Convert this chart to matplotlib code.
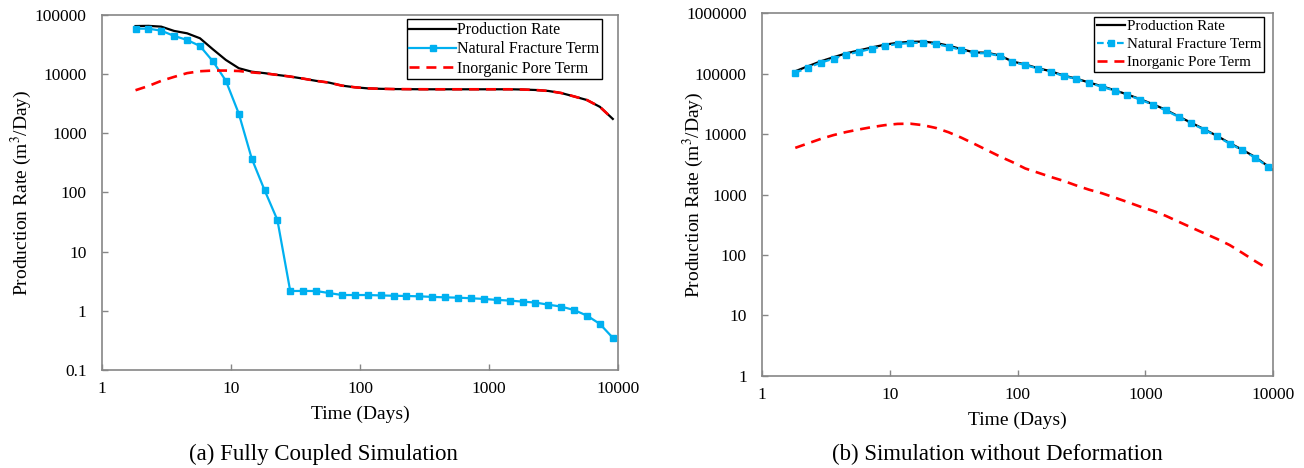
import matplotlib
matplotlib.use("Agg")
import matplotlib.pyplot as plt
import matplotlib.ticker as ticker

plt.rcParams["font.family"] = ["Liberation Serif", "DejaVu Serif"]
plt.rcParams["mathtext.fontset"] = "stix"

# simulation output times (days), shared by both runs
t = [1.82, 2.29, 2.88, 3.63, 4.57, 5.75, 7.24, 9.12, 11.5, 14.5,
     18.2, 22.9, 28.8, 36.3, 45.7, 57.5, 72.4, 91.2, 115, 145,
     182, 229, 288, 363, 457, 575, 724, 912, 1148, 1445,
     1820, 2291, 2884, 3631, 4571, 5754, 7244, 9120]

# (a) fully coupled simulation
prod_a = [65000, 65500, 63500, 53700, 49000, 40400, 26300, 17400, 12600, 11000,
          10400, 9700, 9100, 8400, 7700, 7200, 6400, 6000, 5750, 5650,
          5600, 5580, 5560, 5550, 5550, 5550, 5550, 5550, 5550, 5550,
          5500, 5400, 5200, 4800, 4200, 3650, 2800, 1750]
frac_a = [58700, 58700, 54300, 44200, 37800, 29900, 16500, 7770, 2150, 372,
          110, 34.3, 2.16, 2.17, 2.16, 2.0, 1.85, 1.85, 1.85, 1.82,
          1.80, 1.78, 1.76, 1.72, 1.69, 1.67, 1.63, 1.59, 1.53, 1.49,
          1.43, 1.38, 1.27, 1.18, 1.03, 0.83, 0.60, 0.35]
pore_a = [5350, 6300, 7700, 9000, 10400, 11200, 11500, 11500, 11300, 10700,
          10300, 9700, 9100, 8400, 7700, 7200, 6400, 6000, 5750, 5650,
          5600, 5580, 5560, 5550, 5550, 5550, 5550, 5550, 5550, 5550,
          5500, 5400, 5200, 4800, 4200, 3650, 2800, 1750]

# (b) simulation without deformation
t_prod_b = t + [10000]
prod_b = [109000, 132000, 159000, 186000, 216000, 241000, 270000, 299000, 322000, 334000,
          337000, 320000, 289000, 253000, 223000, 221000, 199000, 158000, 141000, 122000,
          109000, 92600, 82400, 70900, 61600, 52900, 45000, 37600, 31100, 25100,
          19500, 15300, 12000, 9340, 7070, 5490, 4150, 2940, 2540]
frac_b = [103000, 125000, 151000, 176000, 205000, 229000, 257000, 285000, 307000, 319000,
          323000, 307000, 278000, 244000, 216000, 216000, 195000, 155000, 138000, 120000,
          107000, 91000, 81000, 69700, 60500, 52000, 44200, 36900, 30500, 24600,
          19100, 15000, 11800, 9160, 6920, 5370, 4060, 2880]
pore_b = [5900, 7000, 8300, 9600, 10800, 11900, 13000, 14000, 14700, 14800,
          14000, 12600, 10700, 8700, 6900, 5430, 4270, 3430, 2690, 2290,
          1950, 1680, 1410, 1200, 1050, 890, 752, 630, 537, 444,
          355, 285, 229, 185, 146, 108, 79, 59]

x_ticks = [1, 10, 100, 1000, 10000]
y_ticks_a = [0.1, 1, 10, 100, 1000, 10000, 100000]
y_ticks_b = [1, 10, 100, 1000, 10000, 100000, 1000000]

BLUE = "#00B0F0"
RED = "#FF0000"
GRAY = "#868686"

fig = plt.figure(figsize=(13.04, 4.68), dpi=100)
ax_a = fig.add_axes([0.0782, 0.2094, 0.3957, 0.7586])
ax_b = fig.add_axes([0.5844, 0.1966, 0.3919, 0.7756])


def style_axes(ax, yticks, ylab_x, leg_anchor, leg_size, leg_handle, leg_space):
    ax.set_xscale("log")
    ax.set_yscale("log")
    ax.set_xlim(1, 10000)
    ax.set_ylim(yticks[0], yticks[-1])
    ax.xaxis.set_major_locator(ticker.FixedLocator(x_ticks))
    ax.yaxis.set_major_locator(ticker.FixedLocator(yticks))
    ax.xaxis.set_major_formatter(ticker.FixedFormatter([f"{v:g}" for v in x_ticks]))
    ax.yaxis.set_major_formatter(ticker.FixedFormatter(
        [f"{v:g}" if v < 1e6 else f"{int(v)}" for v in yticks]))
    ax.xaxis.set_minor_locator(ticker.NullLocator())
    ax.yaxis.set_minor_locator(ticker.NullLocator())
    ax.tick_params(direction="in", length=4, width=1, color=GRAY, labelsize=12.5)
    ax.tick_params(axis="y", pad=11)
    ax.tick_params(axis="x", pad=8)
    for s in ax.spines.values():
        s.set_color(GRAY)
        s.set_linewidth(1.2)
    ax.set_xlabel("Time (Days)", fontsize=14, labelpad=6)
    ax.set_ylabel("Production Rate (m$^3$/Day)", fontsize=14, va="center")
    ax.yaxis.set_label_coords(ylab_x, 0.5)
    leg = ax.legend(loc="upper right", bbox_to_anchor=leg_anchor, borderaxespad=0,
                    fontsize=leg_size, frameon=True, fancybox=False,
                    edgecolor="black", framealpha=1, handlelength=leg_handle,
                    handletextpad=0.1, labelspacing=leg_space, borderpad=0.18)
    leg.get_frame().set_linewidth(1.0)


# (a)
ax_a.plot(t, prod_a, color="black", lw=1.6, label="Production Rate", zorder=2)
ax_a.plot(t, frac_a, color=BLUE, lw=1.6, marker="s", ms=4.6, mec=BLUE,
          label="Natural Fracture Term", zorder=3)
ax_a.plot(t, pore_a, color=RED, lw=1.9, ls=(0, (3.8, 2.6)),
          label="Inorganic Pore Term", zorder=4)
style_axes(ax_a, y_ticks_a, -0.157, (0.97, 0.988), 11.5, 2.9, 0.2)

# (b)
ax_b.plot(t_prod_b, prod_b, color="black", lw=1.6, label="Production Rate", zorder=2)
ax_b.plot(t, frac_b, color=BLUE, lw=1.6, ls=(0, (3, 1.5)), marker="s", ms=4.6,
          mec=BLUE, label="Natural Fracture Term", zorder=3)
ax_b.plot(t, pore_b, color=RED, lw=1.9, ls=(0, (3.8, 2.6)),
          label="Inorganic Pore Term", zorder=4)
style_axes(ax_b, y_ticks_b, -0.135, (0.982, 0.99), 10.8, 1.9, 0.32)

fig.text(0.248, 0.030, "(a) Fully Coupled Simulation", fontsize=16.5,
         ha="center", va="center")
fig.text(0.765, 0.030, "(b) Simulation without Deformation", fontsize=16.5,
         ha="center", va="center")

fig.savefig("out.png", dpi=100)
